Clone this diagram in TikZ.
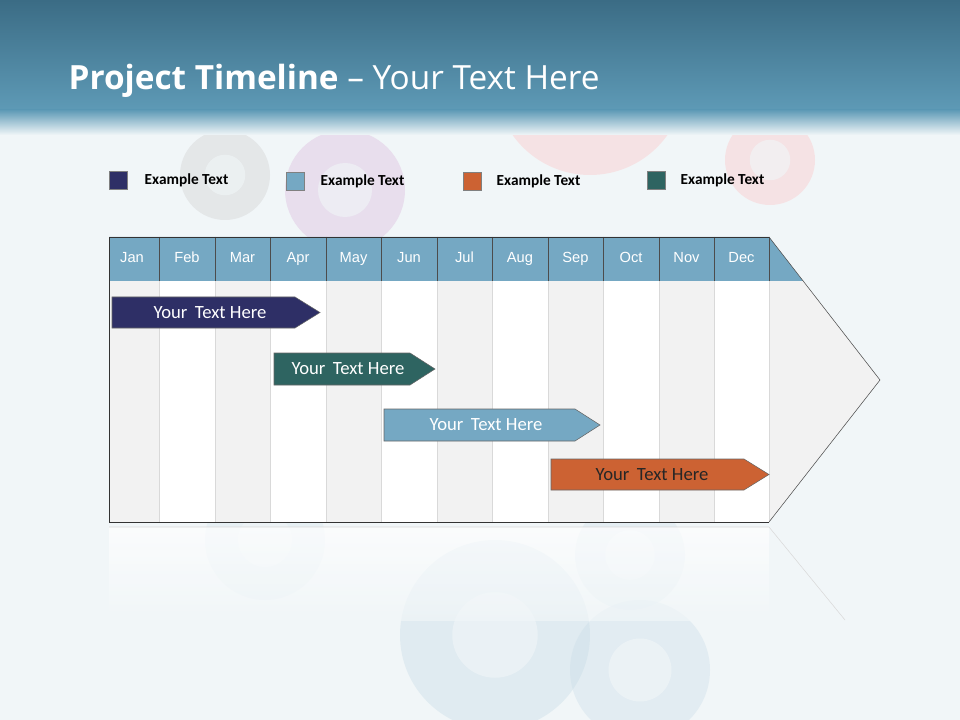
\documentclass[tikz,border=0pt]{standalone}
\usepackage{fontspec}
\setmainfont{Carlito}
\newfontfamily\titlefont{Open Sans}
\newfontfamily\monfont{Liberation Sans}
\begin{document}
\begin{tikzpicture}[x=0.75pt,y=-0.75pt,
  bar/.style={draw=black!60,line width=0.4pt},
  bartext/.style={text=white,font=\fontsize{14}{16}\selectfont},
  mon/.style={text=white,font=\monfont\fontsize{11}{13}\selectfont,text height=8pt,text depth=2pt},
  leg/.style={anchor=west,font=\bfseries\fontsize{11.5}{13}\selectfont},
  legbox/.style={draw=black!50,minimum width=13.5pt,minimum height=13.5pt,inner sep=0pt}]
\definecolor{navy}{HTML}{2E2F66}\definecolor{teal2}{HTML}{2E6461}
\definecolor{lblue}{HTML}{75A8C3}\definecolor{orng}{HTML}{CC6233}
\definecolor{hdtop}{HTML}{3B6C85}\definecolor{hdbot}{HTML}{5E9AB6}\definecolor{bg}{HTML}{F1F6F8}
\useasboundingbox (0,0) rectangle (960,720);
\fill[bg] (0,0) rectangle (960,720);
% faint gears suggestion
\foreach \cx/\cy/\r/\c in {345/190/60/violet!30,590/80/95/red!25,770/160/45/red!25,225/175/45/black!20,495/635/95/lblue!45,640/670/70/lblue!40,630/555/55/lblue!35,265/540/60/lblue!30}{
  \fill[\c,opacity=0.35] (\cx,\cy) circle (\r);
  \fill[bg,opacity=0.6] (\cx,\cy) circle (0.45*\r);}
\shade[top color=hdtop,bottom color=hdbot] (0,0) rectangle (960,110);
\shade[top color=hdbot,bottom color=bg] (0,110) rectangle (960,135);
\node[anchor=west,text=white,font=\titlefont\fontsize{25}{30}\selectfont] (title) at (64,81) {\textbf{Project Timeline} \textendash{} Your Text Here};
% legend
\node[legbox,fill=navy] (l1) at (118,180) {};\node[leg] (t1) at (140,180) {Example Text};
\node[legbox,fill=lblue] (l2) at (295,181) {};\node[leg] (t2) at (316,181) {Example Text};
\node[legbox,fill=orng] (l3) at (472,181) {};\node[leg] (t3) at (492,181) {Example Text};
\node[legbox,fill=teal2] (l4) at (656,180) {};\node[leg] (t4) at (676,180) {Example Text};
% reflection
\shade[top color=white,bottom color=bg,opacity=0.7] (109,527) rectangle (769,620);
\draw[black!15] (109,527) -- (769,527) -- (845,620);
% body
\fill[black!5] (109,237) -- (769,237) -- (880,380) -- (769,522) -- (109,522) -- cycle;
\foreach \a/\b [count=\i] in {109/159,159/215,215/270,270/326,326/381,381/437,437/492,492/548,548/603,603/659,659/714,714/769}{
  \ifodd\i\relax\else\fill[white] (\a,281) rectangle (\b,522);\fi}
\fill[lblue] (109,237) -- (769,237) -- (803,281) -- (109,281) -- cycle;
\foreach \x in {159,215,270,326,381,437,492,548,603,659,714}{
  \draw[black!15] (\x,281) -- (\x,522); \draw[black!70] (\x,237) -- (\x,281);}
\draw[black!15] (769,281) -- (769,522);
\draw[black!80,line width=0.6pt] (769,237) -- (109,237) -- (109,522) -- (769,522);
\draw[black!70] (769,237) -- (880,380) -- (769,522);
\draw[black!70] (769,237) -- (769,281);
\foreach \m/\x in {Jan/132,Feb/187,Mar/242.5,Apr/298,May/353.5,Jun/409,Jul/464.5,Aug/520,Sep/575.5,Oct/631,Nov/686.5,Dec/741.5}
  \node[mon] (m\m) at (\x,259) {\m};
% bars
\fill[navy,bar] (112,297) -- (295,297) -- (320,312.5) -- (295,328) -- (112,328) -- cycle;
\node[bartext] (b1) at (210,312.5) {Your\, Text Here};
\fill[teal2,bar] (274,353) -- (410,353) -- (435,369) -- (410,385) -- (274,385) -- cycle;
\node[bartext] (b2) at (348,369) {Your\, Text Here};
\fill[lblue,bar] (384,409) -- (575,409) -- (600,425) -- (575,441) -- (384,441) -- cycle;
\node[bartext] (b3) at (486,425) {Your\, Text Here};
\fill[orng,bar] (551,459) -- (744,459) -- (769,474.5) -- (744,490) -- (551,490) -- cycle;
\node[bartext,text=black!85] (b4) at (652,474.5) {Your\, Text Here};
\end{tikzpicture}
\end{document}
